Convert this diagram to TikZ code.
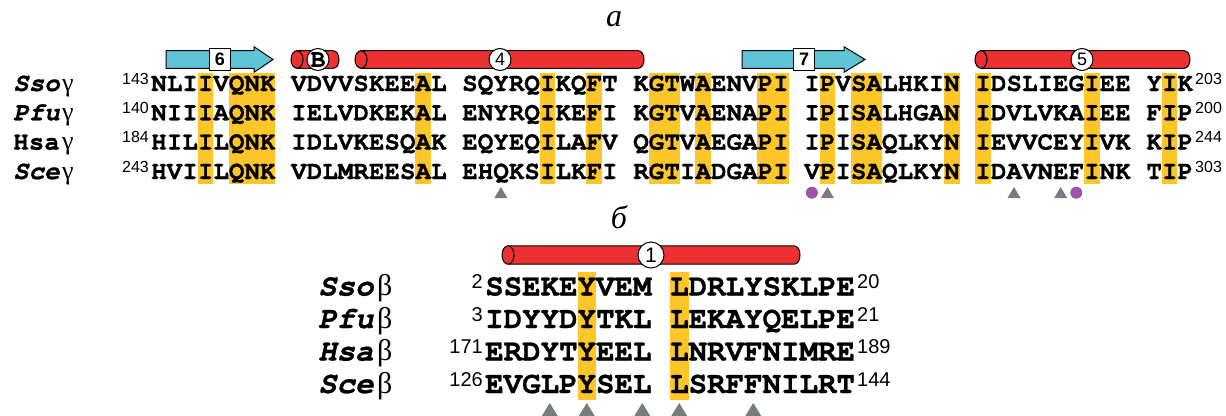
\documentclass[tikz,border=0pt]{standalone}
\usepackage{fontspec}
\setmainfont{Liberation Serif}
\newfontfamily\seqf{texgyrecursor}[Extension=.otf,UprightFont=*-regular,BoldFont=*-bold,ItalicFont=*-italic,BoldItalicFont=*-bolditalic,BoldFeatures={FakeBold=0.8},BoldItalicFeatures={FakeBold=0.8}]
\newfontfamily\supf{Liberation Sans}
\definecolor{hlred}{RGB}{236,50,48}
\definecolor{stcyan}{RGB}{94,197,214}
\definecolor{hlyel}{RGB}{255,198,41}
\definecolor{trigray}{RGB}{120,124,124}
\definecolor{dotpur}{RGB}{158,82,168}
\newcommand\drawhelix[4]{%
  \filldraw[helixbody] ({#1+6},{#3-#4}) -- ({#2-6},{#3-#4}) .. controls ({#2+2},{#3-#4}) and ({#2+2},{#3+#4}) .. ({#2-6},{#3+#4}) -- ({#1+6},{#3+#4}) -- cycle;
  \filldraw[helixbody] ({#1+6},#3) ellipse [x radius=6, y radius=#4];}
\begin{document}
\begin{tikzpicture}[x=1pt,y=-1pt,
  seqA/.style={font=\seqf\bfseries\fontsize{25.9pt}{26pt}\selectfont,anchor=base west,inner sep=0pt},
  seqB/.style={font=\seqf\bfseries\fontsize{30.8pt}{31pt}\selectfont,anchor=base west,inner sep=0pt},
  supA/.style={font=\supf\fontsize{16pt}{16pt}\selectfont,inner sep=0pt},
  supB/.style={font=\supf\fontsize{20pt}{20pt}\selectfont,inner sep=0pt},
  grkA/.style={font=\fontsize{26pt}{26pt}\selectfont,anchor=base west,inner sep=0pt},
  grkB/.style={font=\fontsize{30pt}{30pt}\selectfont,anchor=base west,inner sep=0pt},
  hl/.style={fill=hlyel},
  helixbody/.style={fill=hlred,draw=black,line width=1pt},
  strandbody/.style={fill=stcyan,draw=black,line width=1pt},
  ssbox/.style={draw=black,fill=white,line width=1pt,minimum width=21pt,minimum height=22pt,inner sep=0pt,font=\supf\bfseries\fontsize{18pt}{18pt}\selectfont},
  sscirc/.style={circle,draw=black,fill=white,line width=1pt,minimum size=22pt,inner sep=0pt,font=\supf\fontsize{18pt}{18pt}\selectfont},
  panel/.style={font=\itshape\fontsize{32pt}{32pt}\selectfont,anchor=base,inner sep=0pt},
]
\useasboundingbox (0,0) rectangle (1226,415);
% ---------------- panel a ----------------
\node[panel] (pa) at (614,27) {а};
% highlights
\foreach \c/\w in {3/1,5/3,17/1,25/1,28/1,32/2,35/1,39/2,43/1,45/2,51/1,53/1,60/1,65/1}
  \fill[hl] ({151+\c*15.55},73) rectangle ({151+(\c+\w)*15.55},184);
% secondary structure
\filldraw[strandbody] (166,50.7) -- (254,50.7) -- (254,46.7) -- (273,59.5) -- (254,72.3) -- (254,68.3) -- (166,68.3) -- cycle;
\node[ssbox] (s6) at (220,59.5) {6};
\drawhelix{291}{339}{59.5}{8.8}
\node[sscirc,font=\seqf\bfseries\fontsize{25pt}{25pt}\selectfont] (hB) at (318,59.5) {B};
\drawhelix{355}{644}{59.5}{8.8}
\node[sscirc] (h4) at (500,59.5) {4};
\filldraw[strandbody] (742,50.7) -- (844,50.7) -- (844,46.7) -- (865,59.5) -- (844,72.3) -- (844,68.3) -- (742,68.3) -- cycle;
\node[ssbox] (s7) at (804,59.5) {7};
\drawhelix{975}{1190}{59.5}{8.8}
\node[sscirc] (h5) at (1082,59.5) {5};
% labels
\node[seqA] (lsso) at (13,91) {\itshape Sso};
\node[grkA] (gsso) at (62,91) {γ};
\node[seqA] (lpfu) at (13,120.3) {\itshape Pfu};
\node[grkA] (gpfu) at (62,120.3) {γ};
\node[seqA] (lhsa) at (13,149.6) {Hsa};
\node[grkA] (ghsa) at (62,149.6) {γ};
\node[seqA] (lsce) at (13,179) {\itshape Sce};
\node[grkA] (gsce) at (62,179) {γ};
% superscripts
\node[supA,anchor=base east] (a1s) at (149,84) {143};
\node[supA,anchor=base east] (a2s) at (149,113.3) {140};
\node[supA,anchor=base east] (a3s) at (149,142.6) {184};
\node[supA,anchor=base east] (a4s) at (149,172) {243};
\node[supA,anchor=base west] (a1e) at (1195,84) {203};
\node[supA,anchor=base west] (a2e) at (1195,113.3) {200};
\node[supA,anchor=base west] (a3e) at (1195,142.6) {244};
\node[supA,anchor=base west] (a4e) at (1195,172) {303};
% sequences
\foreach[count=\i] \b/\k in {NLIIVQNK/0,VDVVSKEEAL/9,SQYRQIKQFT/20,KGTWAENVPI/31,IPVSALHKIN/42,IDSLIEGIEE/53,YIK/64}
  \node[seqA] (sso\i) at ({151+\k*15.55},91) {\b};
\foreach[count=\i] \b/\k in {NIIIAQNK/0,IELVDKEKAL/9,ENYRQIKEFI/20,KGTVAENAPI/31,IPISALHGAN/42,IDVLVKAIEE/53,FIP/64}
  \node[seqA] (pfu\i) at ({151+\k*15.55},120.3) {\b};
\foreach[count=\i] \b/\k in {HILILQNK/0,IDLVKESQAK/9,EQYEQILAFV/20,QGTVAEGAPI/31,IPISAQLKYN/42,IEVVCEYIVK/53,KIP/64}
  \node[seqA] (hsa\i) at ({151+\k*15.55},149.6) {\b};
\foreach[count=\i] \b/\k in {HVIILQNK/0,VDLMREESAL/9,EHQKSILKFI/20,RGTIADGAPI/31,VPISAQLKYN/42,IDAVNEFINK/53,TIP/64}
  \node[seqA] (sce\i) at ({151+\k*15.55},179) {\b};
% markers
\foreach \c in {22,43,55,58}
  \fill[trigray] ({151+(\c+0.5)*15.55-6.5},198) -- ({151+(\c+0.5)*15.55+6.5},198) -- ({151+(\c+0.5)*15.55},187) -- cycle;
\foreach \c in {42,59}
  \fill[dotpur] ({151+(\c+0.5)*15.55},192.7) circle[radius=6];
% ---------------- panel b ----------------
\node[panel] (pb) at (619,228) {б};
\foreach \c in {5,10}
  \fill[hl] ({485+\c*18.5},272) rectangle ({485+(\c+1)*18.5},400);
\drawhelix{502}{800}{255}{9.2}
\node[sscirc,minimum size=26pt,font=\supf\fontsize{21pt}{21pt}\selectfont] (h1) at (651,255) {1};
\node[seqB] (bl1) at (318,295.5) {\itshape Sso};
\node[grkB] (bg1) at (377,295.5) {β};
\node[seqB] (bl2) at (318,328) {\itshape Pfu};
\node[grkB] (bg2) at (377,328) {β};
\node[seqB] (bl3) at (318,360.5) {\itshape Hsa};
\node[grkB] (bg3) at (377,360.5) {β};
\node[seqB] (bl4) at (318,393) {\itshape Sce};
\node[grkB] (bg4) at (377,393) {β};
\node[supB,anchor=base east] (b1s) at (483,288.5) {2};
\node[supB,anchor=base east] (b2s) at (483,321) {3};
\node[supB,anchor=base east] (b3s) at (483,353.5) {171};
\node[supB,anchor=base east] (b4s) at (483,386) {126};
\node[supB,anchor=base west] (b1e) at (857,288.5) {20};
\node[supB,anchor=base west] (b2e) at (857,321) {21};
\node[supB,anchor=base west] (b3e) at (857,353.5) {189};
\node[supB,anchor=base west] (b4e) at (857,386) {144};
\foreach[count=\i] \b/\k/\y in {SSEKEYVEM/0/295.5,LDRLYSKLPE/10/295.5,IDYYDYTKL/0/328,LEKAYQELPE/10/328,ERDYTYEEL/0/360.5,LNRVFNIMRE/10/360.5,EVGLPYSEL/0/393,LSRFFNILRT/10/393}
  \node[seqB] (bs\i) at ({485+\k*18.5},\y) {\b};
\foreach \c in {3,5,8,10,14}
  \fill[trigray] ({485+(\c+0.5)*18.5-8},416) -- ({485+(\c+0.5)*18.5+8},416) -- ({485+(\c+0.5)*18.5},403) -- cycle;
\end{tikzpicture}
\end{document}
